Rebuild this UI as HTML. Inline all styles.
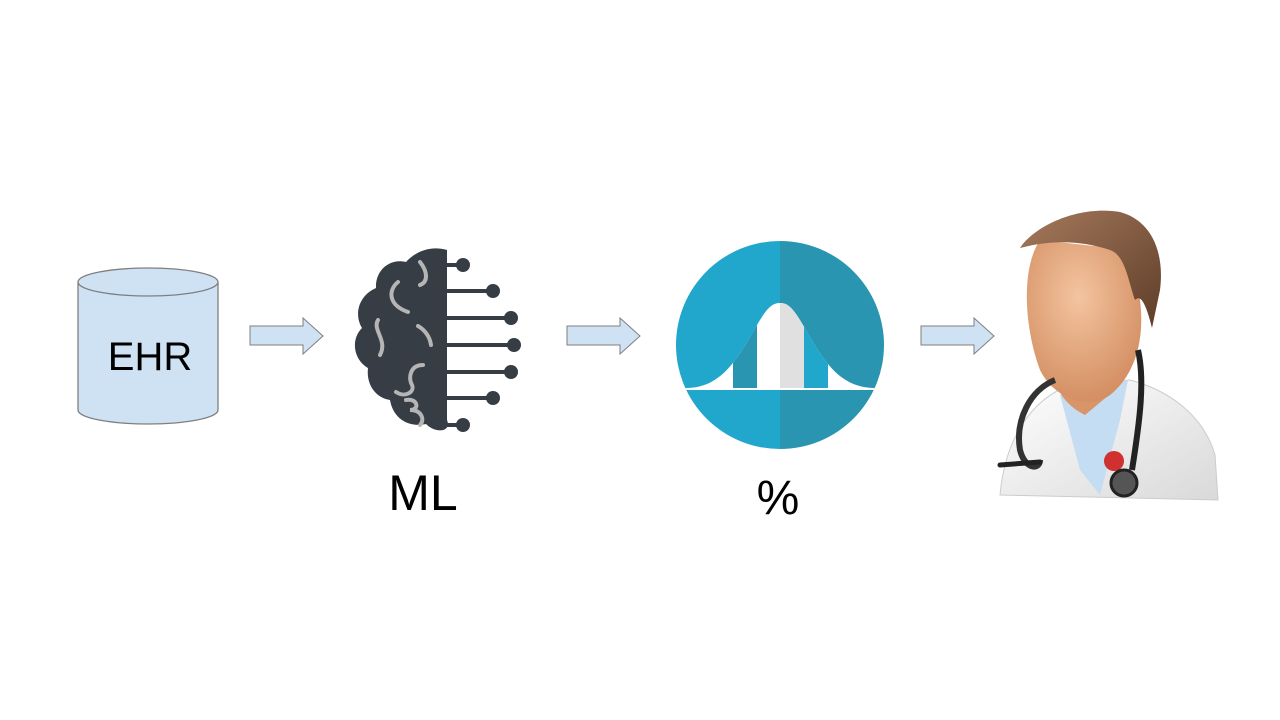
<!DOCTYPE html>
<html><head><meta charset="utf-8"><style>
html,body{margin:0;padding:0;background:#fff}
svg{display:block}
text{font-family:"Liberation Sans",Arial,sans-serif}
</style></head><body>
<svg width="1280" height="720" viewBox="0 0 1280 720" xmlns="http://www.w3.org/2000/svg">
<defs>
<clipPath id="bell"><path d="M686,388 C722,388 738,358 757,325 C767,308 772,303 780,303 C788,303 793,308 803,325 C822,358 838,388 875,388 Z"/></clipPath>
<clipPath id="circ"><circle cx="780" cy="345" r="104"/></clipPath>
<radialGradient id="face" cx="0.45" cy="0.35" r="0.7"><stop offset="0" stop-color="#f3c4a0"/><stop offset="1" stop-color="#d28b5e"/></radialGradient>
<linearGradient id="hair" x1="0" y1="0" x2="1" y2="1"><stop offset="0" stop-color="#a67a5c"/><stop offset="1" stop-color="#5e3d29"/></linearGradient>
<linearGradient id="coat" x1="0" y1="0" x2="1" y2="1"><stop offset="0" stop-color="#ffffff"/><stop offset="1" stop-color="#d9d9d9"/></linearGradient>
</defs>
<path d="M78,282 L78,410 A70,14 0 0 0 218,410 L218,282" fill="#cfe2f3" stroke="#7f7f7f" stroke-width="1.3"/>
<ellipse cx="148" cy="282" rx="70" ry="14" fill="#cfe2f3" stroke="#7f7f7f" stroke-width="1.3"/>
<text x="150" y="370" font-size="40" text-anchor="middle" fill="#000">EHR</text>
<g fill="#cfe2f3" stroke="#7f7f7f" stroke-width="1">
<path d="M250,326 L303,326 L303,318 L323,336 L303,354 L303,345 L250,345 Z"/>
<path d="M567,326 L620,326 L620,318 L640,336 L620,354 L620,345 L567,345 Z"/>
<path d="M921,326 L974,326 L974,318 L994,336 L974,354 L974,345 L921,345 Z"/>
</g>
<g fill="#363d45">
<path d="M447,250 C430,245 415,252 406,262 C390,258 375,270 376,288 C358,296 354,315 362,328 C350,340 354,360 368,368 C366,385 376,398 390,400 C393,418 408,428 426,424 C436,434 452,432 447,420 Z"/>
<g stroke="#363d45" stroke-width="4">
<line x1="445" y1="265" x2="462" y2="265"/><line x1="445" y1="291" x2="493" y2="291"/>
<line x1="445" y1="318" x2="511" y2="318"/><line x1="445" y1="345" x2="514" y2="345"/>
<line x1="445" y1="372" x2="511" y2="372"/><line x1="445" y1="398" x2="493" y2="398"/>
<line x1="445" y1="425" x2="462" y2="425"/>
</g>
<circle cx="463" cy="265" r="7"/><circle cx="493" cy="291" r="7"/><circle cx="511" cy="318" r="7"/>
<circle cx="514" cy="345" r="7"/><circle cx="511" cy="372" r="7"/><circle cx="493" cy="398" r="7"/><circle cx="463" cy="425" r="7"/>
</g>
<g fill="none" stroke="#b5b5b5" stroke-width="4" stroke-linecap="round">
<path d="M420,262 C428,272 428,282 420,285"/><path d="M398,282 C388,290 388,305 408,312"/>
<path d="M378,320 C372,330 388,340 380,355"/><path d="M418,326 C425,330 430,337 431,345"/>
<path d="M423,365 C410,365 408,378 412,385 C415,392 405,398 396,392"/>
<path d="M406,400 C418,398 420,410 410,410 C422,410 425,420 420,425"/>
</g>
<text x="423" y="510" font-size="50" text-anchor="middle">ML</text>
<g clip-path="url(#circ)">
<rect x="670" y="235" width="110" height="220" fill="#22a7cc"/>
<rect x="780" y="235" width="110" height="220" fill="#2995b1"/>
<rect x="670" y="388" width="220" height="2" fill="#fff"/>
</g>
<path d="M686,388 C722,388 738,358 757,325 C767,308 772,303 780,303 C788,303 793,308 803,325 C822,358 838,388 875,388 Z" fill="#fff"/>
<g clip-path="url(#bell)">
<rect x="733" y="290" width="24" height="98" fill="#2995b1"/>
<rect x="780" y="290" width="24" height="98" fill="#e0e0e0"/>
<rect x="804" y="290" width="24" height="98" fill="#22a7cc"/>
</g>
<text x="778" y="514" font-size="48" text-anchor="middle">%</text>
<path d="M1000,495 C1005,440 1030,400 1070,385 L1130,380 C1175,392 1205,420 1215,455 L1218,500 Z" fill="url(#coat)" stroke="#ccc"/>
<path d="M1060,395 L1080,470 L1100,495 L1120,420 L1128,380 Z" fill="#c4ddf2"/>
<path d="M1055,380 C1060,400 1075,410 1085,415 L1115,390 L1110,360 Z" fill="#d8956a"/>
<path d="M1040,240 C1020,270 1025,330 1040,370 C1055,400 1090,410 1110,395 C1135,375 1145,340 1140,300 L1130,250 Z" fill="url(#face)"/>
<path d="M1020,248 C1035,225 1080,205 1120,212 C1150,220 1165,250 1160,290 L1152,328 C1145,300 1140,295 1135,300 C1128,280 1125,255 1110,250 C1080,240 1050,240 1020,248 Z" fill="url(#hair)"/>
<path d="M1138,350 C1145,380 1140,420 1132,470" fill="none" stroke="#222" stroke-width="6"/>
<path d="M1055,380 C1030,390 1015,420 1020,450 C1025,470 1040,470 1040,460" fill="none" stroke="#333" stroke-width="6"/>
<line x1="1000" y1="465" x2="1040" y2="462" stroke="#222" stroke-width="5" stroke-linecap="round"/>
<circle cx="1114" cy="461" r="10" fill="#d03030"/>
<circle cx="1124" cy="483" r="13" fill="#555" stroke="#222" stroke-width="3"/>
</svg>
</body></html>
